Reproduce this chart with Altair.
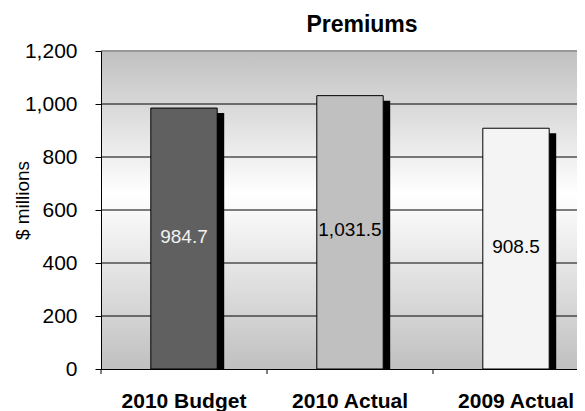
import altair as alt
import pandas as pd

categories = ["2010 Budget", "2010 Actual", "2009 Actual"]
values = [984.7, 1031.5, 908.5]
bar_colors = ["#606060", "#c0c0c0", "#f4f4f4"]
label_colors = ["#f2f2f2", "#000000", "#000000"]
y_ticks = [0, 200, 400, 600, 800, 1000, 1200]
grid_values = [200, 400, 600, 800, 1000]
top_value = [1200]
chart_title = "Premiums"

W, H = 476, 318
BAND_RANGE = 498
FONT = "Liberation Sans"

df = pd.DataFrame({"cat": categories, "value": values, "fill": bar_colors, "lc": label_colors})
grid_df = pd.DataFrame({"g": grid_values})
top_df = pd.DataFrame({"g": top_value})
one = pd.DataFrame({"t": [chart_title]})

yscale = alt.Scale(domain=[0, 1200], nice=False)
xscale = alt.Scale(domain=categories, range=[0, BAND_RANGE], paddingInner=0, paddingOuter=0)

x_enc = alt.X(
    "cat:N", sort=categories, scale=xscale,
    axis=alt.Axis(title=None, ticks=False, domain=True, domainColor="black",
                  labelFontSize=21, labelFontWeight="bold", labelFont=FONT,
                  labelColor="black", labelPadding=38, labelBaseline="alphabetic",
                  labelAngle=0, zindex=1),
)
y_enc = alt.Y(
    "value:Q", scale=yscale,
    axis=alt.Axis(values=y_ticks, format=",d", title="$ millions", grid=False,
                  domainColor="black", tickColor="black", tickSize=6,
                  labelFontSize=21, labelFont=FONT, labelColor="black",
                  labelPadding=18, titleFont=FONT, titleFontSize=19,
                  titleFontWeight="normal", titleColor="black",
                  titleX=-79, titleY=149, titleAlign="center",
                  titleBaseline="middle", titleAngle=-90, zindex=1),
)

bg = alt.Chart(one).mark_rect(
    fill=alt.Gradient(
        gradient="linear", x1=0, x2=0, y1=0, y2=1,
        stops=[alt.GradientStop(offset=0, color="#c0c0c0"),
               alt.GradientStop(offset=0.45, color="#ffffff"),
               alt.GradientStop(offset=1, color="#c0c0c0")],
    )
).encode(x=alt.value(0), x2=alt.value(W), y=alt.value(0), y2=alt.value(H))

grid = alt.Chart(grid_df).mark_rule(color="black", strokeWidth=1).encode(
    y=alt.Y("g:Q", scale=yscale)
)
top = alt.Chart(top_df).mark_rule(color="#999999", strokeWidth=2).encode(
    y=alt.Y("g:Q", scale=yscale)
)

shadow = alt.Chart(df).mark_bar(
    color="black", xOffset=7, yOffset=5, y2Offset=5, clip=True,
    width=alt.RelativeBandSize(0.4),
).encode(x=x_enc, y=y_enc)

bars = alt.Chart(df).mark_bar(
    stroke="black", strokeWidth=1, width=alt.RelativeBandSize(0.4)
).encode(x=x_enc, y=y_enc, fill=alt.Fill("fill:N", scale=None))

labels = alt.Chart(df).transform_calculate(mid="datum.value / 2").mark_text(
    font=FONT, fontSize=19, baseline="middle", align="center", dy=-2
).encode(
    x=alt.X("cat:N", sort=categories, scale=xscale),
    y=alt.Y("mid:Q", scale=yscale),
    text=alt.Text("value:Q", format=",.1f"),
    color=alt.Color("lc:N", scale=None),
)

xticks = alt.Chart(df).mark_rule(color="black").encode(
    x=alt.X("cat:N", sort=categories, scale=xscale, bandPosition=0),
    y=alt.value(H), y2=alt.value(H + 5),
)

title = alt.Chart(one).mark_text(
    font=FONT, fontSize=23, fontWeight="bold", color="black",
    baseline="alphabetic", align="center",
).encode(text="t:N", x=alt.value(261), y=alt.value(-19))

chart = alt.layer(bg, grid, top, shadow, bars, labels, xticks, title).properties(
    width=W, height=H,
    autosize=alt.AutoSizeParams(type="none"),
    padding={"left": 93, "top": 43, "right": 0, "bottom": 42},
).configure_view(stroke=None)

chart.save("out.html", embed_options={"renderer": "svg", "actions": False})
